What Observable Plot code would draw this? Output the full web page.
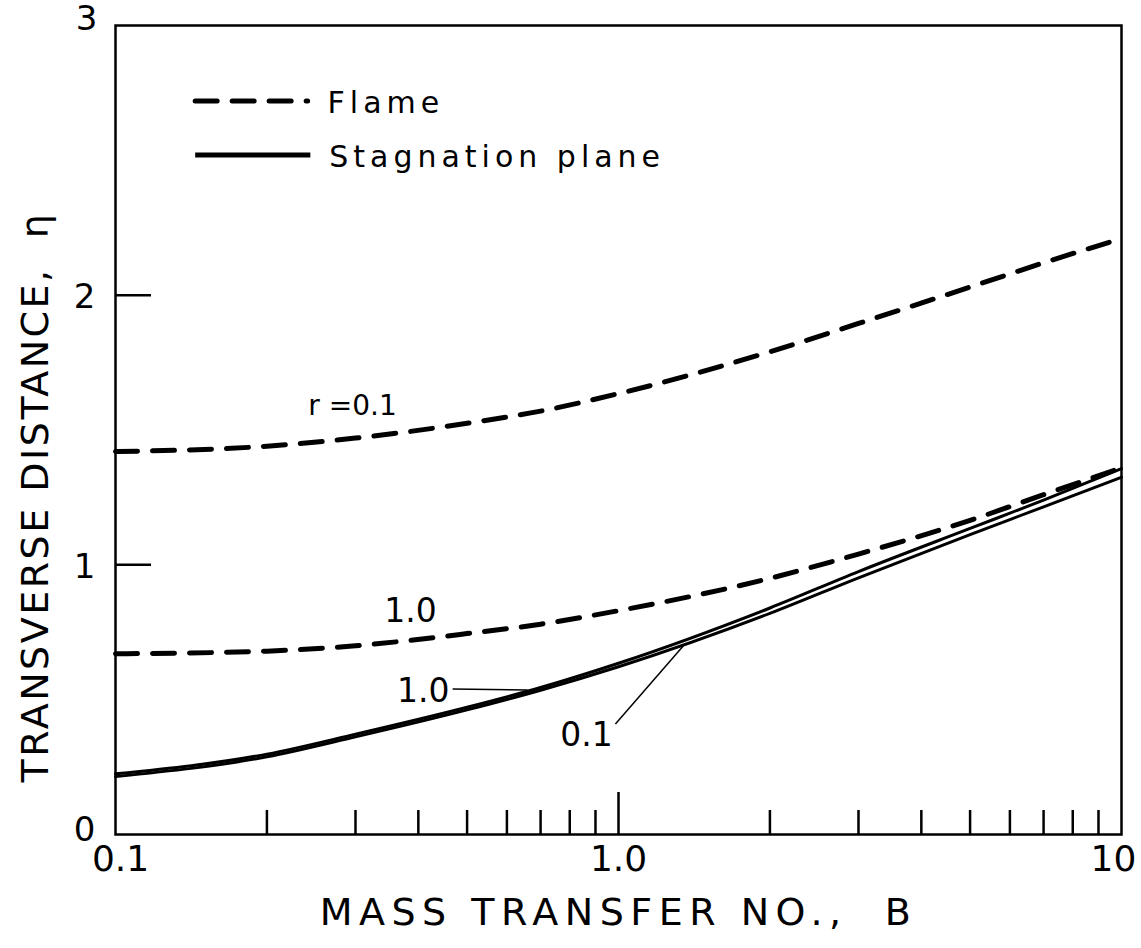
<!DOCTYPE html>
<html><head><meta charset="utf-8">
<script src="https://cdn.jsdelivr.net/npm/d3@7"></script>
<script src="https://cdn.jsdelivr.net/npm/@observablehq/plot@0.6"></script>
<style>body{margin:0;background:#fff} svg{display:block}</style>
</head><body><div id="chart"></div>
<script>
// Mass transfer number B (log axis)
const B = [0.1, 0.2, 0.3, 0.5, 0.7, 1, 2, 3, 5, 7, 10];
// Flame position (dashed)
const flameR01 = [1.42, 1.44, 1.47, 1.525, 1.57, 1.635, 1.79, 1.895, 2.03, 2.12, 2.21];
const flameR10 = [0.67, 0.68, 0.70, 0.745, 0.78, 0.83, 0.95, 1.04, 1.165, 1.26, 1.36];
// Stagnation plane (solid)
const stagR10 = [0.225, 0.298, 0.372, 0.472, 0.545, 0.635, 0.84, 0.975, 1.135, 1.24, 1.357];
const stagR01 = [0.215, 0.288, 0.362, 0.462, 0.535, 0.622, 0.82, 0.952, 1.112, 1.215, 1.325];

// Axis ticks
const xMinorTicks = [0.2, 0.3, 0.4, 0.5, 0.6, 0.7, 0.8, 0.9, 2, 3, 4, 5, 6, 7, 8, 9];
const xMajorTicks = [1];
const xLabelTicks = [0.1, 1, 10];
const xTickLabels = ["0.1", "1.0", "10"];
const yInnerTicks = [1, 2];
const yLabelTicks = [0, 1, 2, 3];
const yTickLabels = ["0", "1", "2", "3"];

// Curve annotations
const annoText = ["r =0.1", "1.0", "1.0", "0.1"];
const annoB = [0.296, 0.386, 0.409, 0.864];
const annoEta = [1.59, 0.827, 0.53, 0.367];
const annoSize = [28, 33, 33, 33];
const leaderB1 = [0.468, 0.986];
const leaderEta1 = [0.54, 0.41];
const leaderB2 = [0.659, 1.346];
const leaderEta2 = [0.536, 0.70];

// Legend
const legendLabels = ["Flame", "Stagnation plane"];
const legendB1 = [0.144, 0.144];
const legendB2 = [0.241, 0.244];
const legendEta = [2.72, 2.52];
const legendTextB = [0.264, 0.266];

const xTitle = "MASS TRANSFER NO.,  B";
const yTitle = "TRANSVERSE DISTANCE,  η";

const toRows = (vals) => B.map((b, i) => ({B: b, eta: vals[i]}));
const dash = {strokeWidth: 5, strokeDasharray: "22,15", strokeLinecap: "round", curve: "monotone-x"};
const solid = {strokeWidth: 3, curve: "monotone-x"};
const xFmt = d => xTickLabels[xLabelTicks.indexOf(d)];
const yFmt = d => yTickLabels[yLabelTicks.indexOf(d)];

const chart = Plot.plot({
  width: 1141, height: 948,
  marginLeft: 115, marginRight: 20, marginTop: 25, marginBottom: 114,
  x: {type: "log", domain: [0.1, 10]},
  y: {domain: [0, 3]},
  style: {fontFamily: "'DejaVu Sans', sans-serif", color: "#000", background: "#fff", overflow: "visible"},
  marks: [
    Plot.axisX(xMinorTicks, {tickSize: -24, tickFormat: () => "", strokeWidth: 2.5, label: null}),
    Plot.axisX(xMajorTicks, {tickSize: -42, tickFormat: () => "", strokeWidth: 2.5, label: null}),
    Plot.axisX(xLabelTicks.slice(0, 1), {tickSize: 0, tickPadding: 11, dx: 5, tickFormat: xFmt, fontSize: 36, label: null}),
    Plot.axisX(xLabelTicks.slice(1, 2), {tickSize: 0, tickPadding: 11, tickFormat: xFmt, fontSize: 36, label: null}),
    Plot.axisX(xLabelTicks.slice(2), {tickSize: 0, tickPadding: 11, dx: -8, tickFormat: xFmt, fontSize: 36, label: null}),
    Plot.axisY(yInnerTicks, {tickSize: -36, tickFormat: () => "", strokeWidth: 2.5, label: null}),
    Plot.axisY(yLabelTicks.slice(0, 1), {tickSize: 0, tickPadding: 20, dy: -4, tickFormat: yFmt, fontSize: 34, label: null}),
    Plot.axisY(yLabelTicks.slice(1, 3), {tickSize: 0, tickPadding: 20, dy: 2, tickFormat: yFmt, fontSize: 34, label: null}),
    Plot.axisY(yLabelTicks.slice(3), {tickSize: 0, tickPadding: 18, dy: -6, tickFormat: yFmt, fontSize: 34, label: null}),
    Plot.frame({strokeWidth: 2.5}),
    Plot.line(toRows(flameR01), {x: "B", y: "eta", ...dash}),
    Plot.line(toRows(flameR10), {x: "B", y: "eta", ...dash}),
    Plot.line(toRows(stagR10), {x: "B", y: "eta", ...solid}),
    Plot.line(toRows(stagR01), {x: "B", y: "eta", ...solid}),
    Plot.text(annoText, {x: (d, i) => annoB[i], y: (d, i) => annoEta[i], text: d => d, fontSize: (d, i) => annoSize[i]}),
    Plot.link(leaderB1, {x1: d => d, y1: (d, i) => leaderEta1[i], x2: (d, i) => leaderB2[i], y2: (d, i) => leaderEta2[i], strokeWidth: 1.5}),
    Plot.link([legendB1[0]], {x1: d => d, x2: legendB2[0], y1: legendEta[0], y2: legendEta[0], strokeWidth: 5, strokeDasharray: "22,15", strokeLinecap: "round"}),
    Plot.link([legendB1[1]], {x1: d => d, x2: legendB2[1], y1: legendEta[1], y2: legendEta[1], strokeWidth: 5}),
    Plot.text(legendLabels, {x: (d, i) => legendTextB[i], y: (d, i) => legendEta[i], text: d => d, textAnchor: "start", fontSize: 30, dy: 2}),
    Plot.text([xTitle], {frameAnchor: "bottom", dy: 90, text: d => d, fontSize: 38}),
    Plot.text([yTitle], {frameAnchor: "left", textAnchor: "middle", dx: -80, dy: 67, rotate: -90, text: d => d, fontSize: 38})
  ]
});
chart.querySelectorAll("text").forEach(t => {
  const s = t.textContent;
  if (s === xTitle) t.setAttribute("letter-spacing", "6.5");
  if (s === yTitle) t.setAttribute("letter-spacing", "2.5");
  if (legendLabels.includes(s)) t.setAttribute("letter-spacing", "5");
});
document.getElementById("chart").append(chart);
</script>
</body></html>
